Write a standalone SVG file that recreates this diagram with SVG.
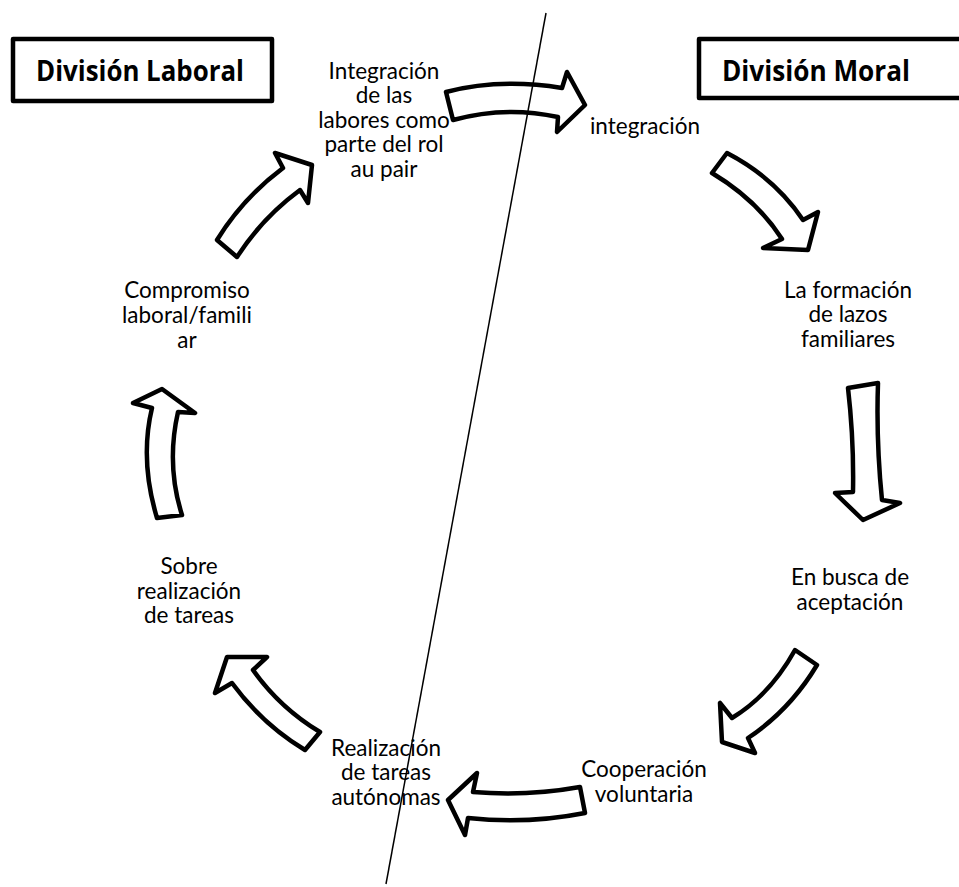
<svg xmlns="http://www.w3.org/2000/svg" width="959" height="887" viewBox="0 0 959 887">
<style>
.arrow{fill:#fff;stroke:#000;stroke-width:4.5;stroke-linejoin:round}
.box{fill:#fff;stroke:#000;stroke-width:4.5;stroke-linejoin:round}
.t{font-family:"Lato","Liberation Sans",sans-serif;font-size:22.5px;fill:#000;text-anchor:middle}
.h{font-family:"Open Sans","Liberation Sans",sans-serif;font-size:29px;font-weight:bold;fill:#000;text-anchor:middle}
.div{stroke:#000;stroke-width:1.5;fill:none}
</style>
<rect width="959" height="887" fill="#fff"/>
<g id="title-laboral">
<rect class="box" x="13" y="39" width="259" height="62"/>
<text class="h" x="140" y="81" textLength="208" lengthAdjust="spacingAndGlyphs">División Laboral</text>
</g>
<g id="title-moral">
<rect class="box" x="699" y="39" width="280" height="59"/>
<text class="h" x="816" y="81" textLength="188" lengthAdjust="spacingAndGlyphs">División Moral</text>
</g>
<g id="connectors">
<path id="a1" class="arrow" d="M446,92 Q500,78 562,88 L567,72 L585,105 L557,132 L558,117 Q505,105.5 453,120 Z"/>
<path id="a2" class="arrow" d="M727,153 Q775,178 803,220 L818,212 L808,250 L763,248 L782,239 Q757,200 712,173 Z"/>
<path id="a3" class="arrow" d="M848,388 Q854,440 853,492 L835,493 L863,520 L900,503 L882,500 Q876,440 878,383 Z"/>
<path id="a4" class="arrow" d="M795,650 Q770,695 732,718 L720,703 L722,742 L755,753 L748,738 Q790,710 817,665 Z"/>
<path id="a5" class="arrow" d="M580,787 Q527,796.5 473,792 L477,773 L448,800 L465,835 L468,818 Q527,824.5 585,813 Z"/>
<path id="a6" class="arrow" d="M320,732 Q280,708 253,670 L267,657 L227,657 L215,693 L232,683 Q262,724 305,750 Z"/>
<path id="a7" class="arrow" d="M157,518 Q139.5,460 152,408 L133,403 L162,389 L195,413 L178,412 Q166,465 182,515 Z"/>
<path id="a8" class="arrow" d="M217,240 Q243,198 283,168 L275,153 L312,165 L308,203 L300,190 Q262,218 237,257 Z"/>
</g>
<g id="n-integracion-labores">
<text class="t" x="384" y="79">Integración<tspan x="384" y="103">de las</tspan><tspan x="384" y="128">labores como</tspan><tspan x="384" y="152">parte del rol</tspan><tspan x="384" y="177">au pair</tspan></text>
</g>
<g id="n-integracion">
<text class="t" x="645" y="134">integración</text>
</g>
<g id="n-lazos">
<text class="t" x="848" y="298">La formación<tspan x="848" y="322">de lazos</tspan><tspan x="848" y="347">familiares</tspan></text>
</g>
<g id="n-aceptacion">
<text class="t" x="850" y="585">En busca de<tspan x="850" y="610">aceptación</tspan></text>
</g>
<g id="n-cooperacion">
<text class="t" x="644" y="777">Cooperación<tspan x="644" y="802">voluntaria</tspan></text>
</g>
<g id="n-autonomas">
<text class="t" x="386" y="756">Realización<tspan x="386" y="780">de tareas</tspan><tspan x="386" y="805">autónomas</tspan></text>
</g>
<g id="n-sobre">
<text class="t" x="189" y="574">Sobre<tspan x="189" y="599">realización</tspan><tspan x="189" y="623">de tareas</tspan></text>
</g>
<g id="n-compromiso">
<text class="t" x="187" y="298">Compromiso<tspan x="187" y="323">laboral/famili</tspan><tspan x="187" y="348">ar</tspan></text>
</g>
<line id="divider" class="div" x1="546" y1="13" x2="386" y2="884"/>
</svg>
